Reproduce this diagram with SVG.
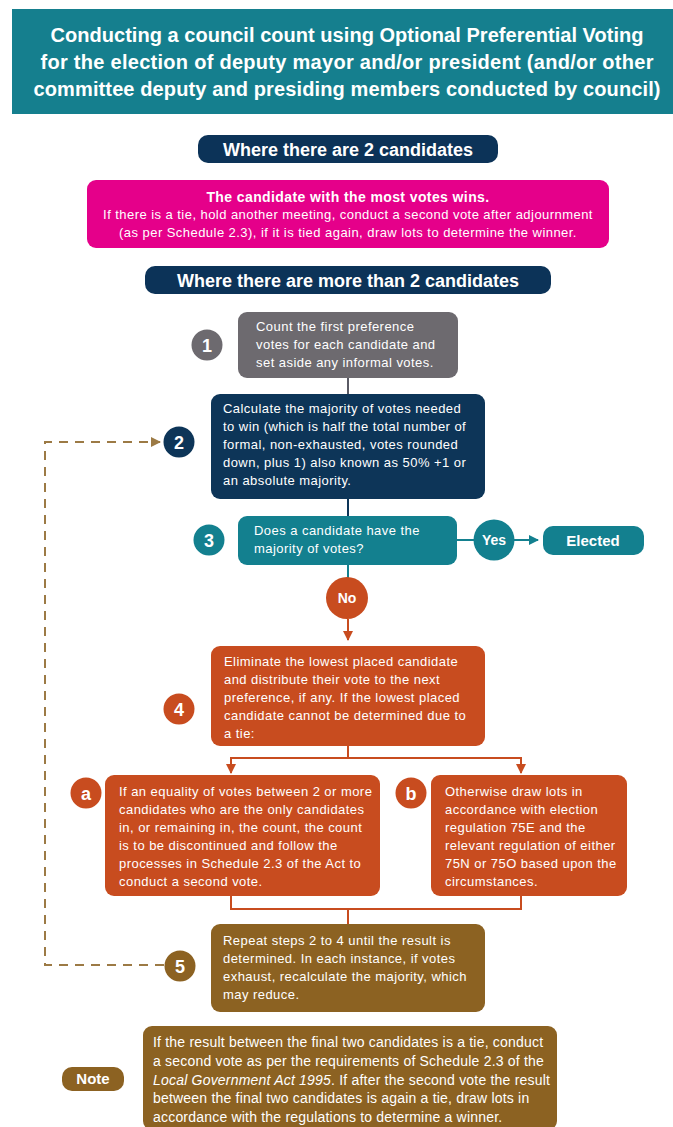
<svg xmlns="http://www.w3.org/2000/svg" width="673" height="1127" viewBox="0 0 673 1127">
<defs>
<style>
.t{font-family:"Liberation Sans",Arial,sans-serif;fill:#fff}
.title{font-size:20px;font-weight:bold;text-anchor:middle}
.pill{font-size:18px;font-weight:bold;text-anchor:middle}
.body{font-size:13px;letter-spacing:0.45px}
.nt{font-size:14px;letter-spacing:0.2px}
.num{font-size:18px;font-weight:bold;text-anchor:middle}
.c{text-anchor:middle}
.b{font-weight:bold}
.ln{fill:none;stroke-width:2}
</style>
<marker id="ahO" viewBox="0 0 10 10" refX="9" refY="5" markerWidth="5" markerHeight="5" orient="auto"><path d="M0,0 L10,5 L0,10 z" fill="#c84c1f"/></marker>
<marker id="ahT" viewBox="0 0 10 10" refX="9" refY="5" markerWidth="5" markerHeight="5" orient="auto"><path d="M0,0 L10,5 L0,10 z" fill="#13808f"/></marker>
<marker id="ahB" viewBox="0 0 10 10" refX="9" refY="5" markerWidth="5" markerHeight="5" orient="auto"><path d="M0,0 L10,5 L0,10 z" fill="#9c7a45"/></marker>
</defs>
<rect width="673" height="1127" fill="#fff"/>

<g id="connectors">
<line class="ln" x1="348" y1="378" x2="348" y2="394" stroke="#5a5a64"/>
<line class="ln" x1="348" y1="499" x2="348" y2="516" stroke="#0d3558"/>
<line class="ln" x1="457" y1="540" x2="474" y2="540" stroke="#13808f"/>
<line class="ln" x1="514" y1="540" x2="538" y2="540" stroke="#13808f" marker-end="url(#ahT)"/>
<line class="ln" x1="348" y1="565" x2="348" y2="578" stroke="#13808f"/>
<line class="ln" x1="348" y1="619" x2="348" y2="640" stroke="#c84c1f" marker-end="url(#ahO)"/>
<path class="ln" d="M348,746 V758 M231,758 H521" stroke="#c84c1f"/>
<line class="ln" x1="231" y1="757" x2="231" y2="773" stroke="#c84c1f" marker-end="url(#ahO)"/>
<line class="ln" x1="521" y1="757" x2="521" y2="773" stroke="#c84c1f" marker-end="url(#ahO)"/>
<path class="ln" d="M231,896 V909 H521 V896" stroke="#c84c1f"/>
<line class="ln" x1="348" y1="909" x2="348" y2="924" stroke="#c84c1f"/>
<path class="ln" d="M164,965 H45 V442 H160" stroke="#9c7a45" stroke-dasharray="9,7" marker-end="url(#ahB)"/>
</g>

<g id="header">
<rect x="12" y="9" width="661" height="105" fill="#157f8e"/>
<text class="t title" x="347" y="42" textLength="593">Conducting a council count using Optional Preferential Voting</text>
<text class="t title" x="347" y="69" textLength="613">for the election of deputy mayor and/or president (and/or other</text>
<text class="t title" x="347" y="96" textLength="627">committee deputy and presiding members conducted by council)</text>
</g>

<g id="pill2">
<rect x="198" y="135" width="300" height="28" rx="10" fill="#0c3358"/>
<text class="t pill" x="348" y="156">Where there are 2 candidates</text>
</g>

<g id="pink">
<rect x="87" y="180" width="522" height="68" rx="9" fill="#e5008a"/>
<text class="t body c b" style="font-size:14px;letter-spacing:0.4px" x="348" y="202">The candidate with the most votes wins.</text>
<text class="t body c" x="348" y="219">If there is a tie, hold another meeting, conduct a second vote after adjournment</text>
<text class="t body c" x="348" y="237">(as per Schedule 2.3), if it is tied again, draw lots to determine the winner.</text>
</g>

<g id="pillmore">
<rect x="145" y="266" width="406" height="28" rx="10" fill="#0c3358"/>
<text class="t pill" x="348" y="287">Where there are more than 2 candidates</text>
</g>

<g id="step1">
<circle cx="207" cy="345" r="15.5" fill="#6d6a6f"/>
<text class="t num" x="207" y="352">1</text>
<rect x="238" y="312" width="220" height="66" rx="9" fill="#6d6a6f"/>
<text class="t body" x="256" y="331">Count the first preference</text>
<text class="t body" x="256" y="349">votes for each candidate and</text>
<text class="t body" x="256" y="367">set aside any informal votes.</text>
</g>

<g id="step2">
<circle cx="179" cy="442" r="15.5" fill="#0d3558"/>
<text class="t num" x="179" y="449">2</text>
<rect x="211" y="394" width="274" height="105" rx="9" fill="#0d3558"/>
<text class="t body" x="223" y="413">Calculate the majority of votes needed</text>
<text class="t body" x="223" y="431">to win (which is half the total number of</text>
<text class="t body" x="223" y="449">formal, non-exhausted, votes rounded</text>
<text class="t body" x="223" y="467">down, plus 1) also known as 50% +1 or</text>
<text class="t body" x="223" y="485">an absolute majority.</text>
</g>

<g id="step3">
<circle cx="209" cy="540" r="15.5" fill="#13808f"/>
<text class="t num" x="209" y="547">3</text>
<rect x="238" y="516" width="219" height="49" rx="9" fill="#13808f"/>
<text class="t body" x="254" y="535">Does a candidate have the</text>
<text class="t body" x="254" y="553">majority of votes?</text>
</g>

<g id="yes">
<circle cx="494" cy="540" r="20.5" fill="#13808f"/>
<text class="t c b" style="font-size:14px" x="494" y="545">Yes</text>
</g>

<g id="elected">
<rect x="543" y="526" width="101" height="29" rx="10" fill="#13808f"/>
<text class="t c b" style="font-size:15px" x="593" y="546">Elected</text>
</g>

<g id="no">
<circle cx="347" cy="598" r="21" fill="#c84c1f"/>
<text class="t c b" style="font-size:14px" x="347" y="603">No</text>
</g>

<g id="step4">
<circle cx="179" cy="709" r="15.5" fill="#c84c1f"/>
<text class="t num" x="179" y="716">4</text>
<rect x="211" y="646" width="274" height="100" rx="9" fill="#c84c1f"/>
<text class="t body" x="224" y="666">Eliminate the lowest placed candidate</text>
<text class="t body" x="224" y="684">and distribute their vote to the next</text>
<text class="t body" x="224" y="702">preference, if any. If the lowest placed</text>
<text class="t body" x="224" y="720">candidate cannot be determined due to</text>
<text class="t body" x="224" y="738">a tie:</text>
</g>

<g id="step4a">
<circle cx="86" cy="793" r="15.5" fill="#c84c1f"/>
<text class="t num" x="86" y="800">a</text>
<rect x="105" y="775" width="275" height="121" rx="9" fill="#c84c1f"/>
<text class="t body" x="119" y="796">If an equality of votes between 2 or more</text>
<text class="t body" x="119" y="814">candidates who are the only candidates</text>
<text class="t body" x="119" y="832">in, or remaining in, the count, the count</text>
<text class="t body" x="119" y="850">is to be discontinued and follow the</text>
<text class="t body" x="119" y="868">processes in Schedule 2.3 of the Act to</text>
<text class="t body" x="119" y="886">conduct a second vote.</text>
</g>

<g id="step4b">
<circle cx="411" cy="793" r="15.5" fill="#c84c1f"/>
<text class="t num" x="411" y="800">b</text>
<rect x="431" y="775" width="196" height="121" rx="9" fill="#c84c1f"/>
<text class="t body" x="445" y="796">Otherwise draw lots in</text>
<text class="t body" x="445" y="814">accordance with election</text>
<text class="t body" x="445" y="832">regulation 75E and the</text>
<text class="t body" x="445" y="850">relevant regulation of either</text>
<text class="t body" x="445" y="868">75N or 75O based upon the</text>
<text class="t body" x="445" y="886">circumstances.</text>
</g>

<g id="step5">
<circle cx="180" cy="966" r="15.5" fill="#8c6222"/>
<text class="t num" x="180" y="973">5</text>
<rect x="211" y="924" width="274" height="88" rx="9" fill="#8c6222"/>
<text class="t body" x="223" y="945">Repeat steps 2 to 4 until the result is</text>
<text class="t body" x="223" y="963">determined. In each instance, if votes</text>
<text class="t body" x="223" y="981">exhaust, recalculate the majority, which</text>
<text class="t body" x="223" y="999">may reduce.</text>
</g>

<g id="note">
<rect x="62" y="1067" width="62" height="24" rx="10" fill="#8c6222"/>
<text class="t c b" style="font-size:15px" x="93" y="1084">Note</text>
<rect x="143" y="1026" width="414" height="104" rx="9" fill="#8c6222"/>
<text class="t nt" x="153" y="1047">If the result between the final two candidates is a tie, conduct</text>
<text class="t nt" x="153" y="1066">a second vote as per the requirements of Schedule 2.3 of the</text>
<text class="t nt" x="153" y="1084.5"><tspan font-style="italic">Local Government Act 1995</tspan>. If after the second vote the result</text>
<text class="t nt" x="153" y="1103">between the final two candidates is again a tie, draw lots in</text>
<text class="t nt" x="153" y="1121.5">accordance with the regulations to determine a winner.</text>
</g>
</svg>
